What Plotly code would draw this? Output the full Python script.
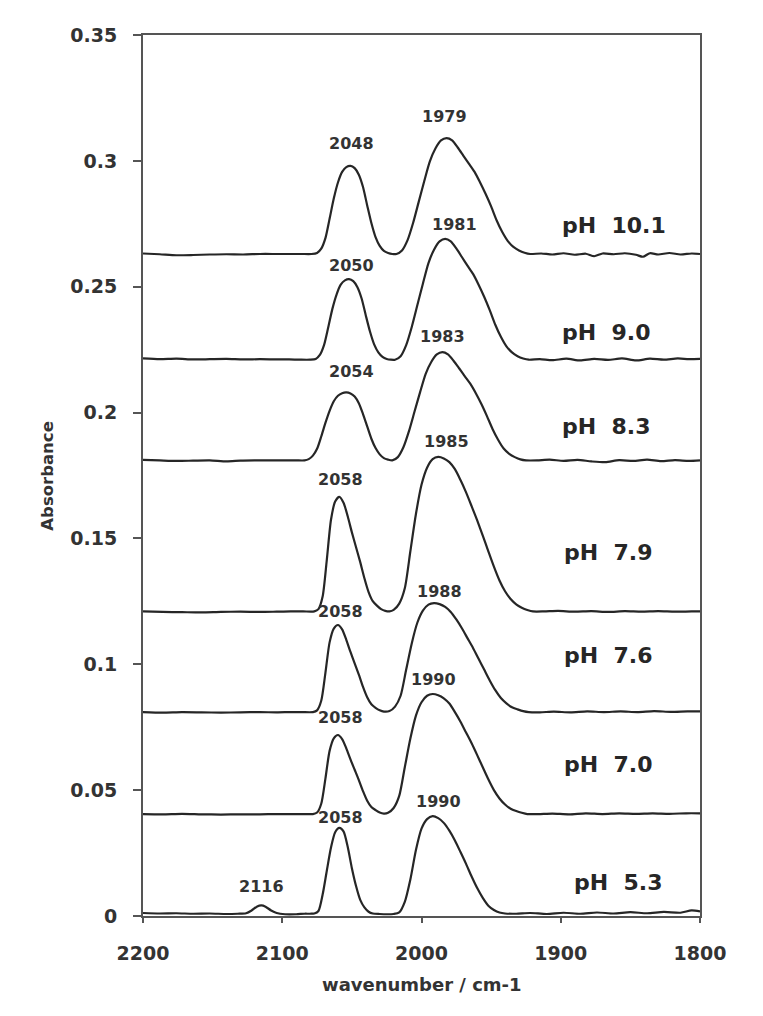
import plotly.graph_objects as go

# ---------------- data ----------------
wn_ph101 = [2200, 2188, 2176, 2164, 2152, 2140, 2128, 2116, 2104, 2094, 2086,
            2079, 2075, 2072, 2069, 2066, 2063, 2060, 2057, 2054, 2051, 2048, 2045, 2042, 2039, 2036, 2033, 2030, 2027, 2024, 2021,
            2018, 2014, 2010, 2006, 2002, 1998, 1994, 1990, 1986, 1982, 1978, 1974, 1970, 1966, 1962, 1958, 1954, 1950,
            1946, 1942, 1938, 1934, 1930, 1926, 1922,
            1914, 1906, 1898, 1890, 1882, 1876, 1870, 1862, 1854, 1846, 1841, 1836, 1830, 1822, 1814, 1806, 1800]
abs_ph101 = [0.2632, 0.2629, 0.2625, 0.2626, 0.2628, 0.2629, 0.2628, 0.2630, 0.2630, 0.2630, 0.2630,
             0.2630, 0.2634, 0.2651, 0.2693, 0.2770, 0.2850, 0.2914, 0.2956, 0.2975, 0.2980, 0.2971, 0.2945, 0.2896, 0.2823, 0.2753, 0.2697, 0.2662, 0.2642, 0.2634, 0.2630,
             0.2630, 0.2644, 0.2685, 0.2754, 0.2837, 0.2920, 0.2998, 0.3049, 0.3081, 0.3090, 0.3081, 0.3053, 0.3021, 0.2989, 0.2957, 0.2915, 0.2869, 0.2819,
             0.2763, 0.2717, 0.2681, 0.2658, 0.2644, 0.2635, 0.2630,
             0.2632, 0.2628, 0.2633, 0.2627, 0.2631, 0.2621, 0.2632, 0.2629, 0.2633, 0.2627, 0.2619, 0.2633, 0.2628, 0.2634, 0.2628, 0.2632, 0.2630]

wn_ph90 = [2200, 2188, 2176, 2164, 2152, 2140, 2128, 2116, 2104, 2095, 2087,
           2080, 2076, 2073, 2070, 2067, 2064, 2061, 2058, 2055, 2052, 2049, 2046, 2043, 2040, 2037, 2034, 2031, 2028, 2025, 2022,
           2019, 2015, 2011, 2007, 2003, 1999, 1995, 1991, 1987, 1983, 1979, 1975, 1971, 1967, 1963, 1959, 1955, 1951,
           1947, 1943, 1939, 1935, 1931, 1927, 1923,
           1915, 1906, 1896, 1886, 1876, 1866, 1856, 1846, 1836, 1826, 1816, 1808, 1800]
abs_ph90 = [0.2215, 0.2212, 0.2214, 0.2211, 0.2212, 0.2213, 0.2211, 0.2212, 0.2211, 0.2211, 0.2210,
            0.2210, 0.2213, 0.2229, 0.2268, 0.2338, 0.2412, 0.2469, 0.2508, 0.2525, 0.2530, 0.2522, 0.2498, 0.2453, 0.2386, 0.2322, 0.2271, 0.2239, 0.2221, 0.2213, 0.2210,
            0.2210, 0.2224, 0.2268, 0.2340, 0.2426, 0.2512, 0.2594, 0.2647, 0.2680, 0.2690, 0.2680, 0.2652, 0.2618, 0.2584, 0.2551, 0.2508, 0.2460, 0.2407,
            0.2349, 0.2301, 0.2263, 0.2239, 0.2224, 0.2215, 0.2210,
            0.2212, 0.2208, 0.2214, 0.2207, 0.2213, 0.2209, 0.2215, 0.2207, 0.2214, 0.2210, 0.2215, 0.2212, 0.2213]

wn_ph83 = [2200, 2188, 2176, 2164, 2152, 2140, 2130, 2120, 2108, 2098, 2090,
           2084, 2081, 2078, 2075, 2072, 2069, 2066, 2063, 2060, 2057, 2054, 2051, 2048, 2045, 2042, 2039, 2036, 2033, 2030, 2027, 2024, 2021,
           2017, 2013, 2009, 2005, 2001, 1997, 1993, 1989, 1985, 1981, 1977, 1973, 1969, 1965, 1961, 1957, 1953, 1949,
           1945, 1941, 1937, 1933, 1929, 1925,
           1917, 1908, 1898, 1888, 1878, 1868, 1858, 1848, 1838, 1828, 1818, 1808, 1800]
abs_ph83 = [0.1812, 0.1810, 0.1808, 0.1809, 0.1810, 0.1806, 0.1809, 0.1810, 0.1810, 0.1810, 0.1810,
            0.1810, 0.1815, 0.1829, 0.1856, 0.1905, 0.1959, 0.2007, 0.2045, 0.2067, 0.2077, 0.2080, 0.2076, 0.2064, 0.2037, 0.1994, 0.1945, 0.1896, 0.1859, 0.1834, 0.1819, 0.1813, 0.1810,
            0.1823, 0.1862, 0.1926, 0.2004, 0.2081, 0.2154, 0.2201, 0.2231, 0.2240, 0.2231, 0.2206, 0.2176, 0.2145, 0.2115, 0.2077, 0.2034, 0.1986, 0.1935,
            0.1892, 0.1857, 0.1836, 0.1823, 0.1814, 0.1810,
            0.1810, 0.1813, 0.1808, 0.1812, 0.1806, 0.1803, 0.1811, 0.1808, 0.1813, 0.1807, 0.1811, 0.1808, 0.1810]

wn_ph79 = [2200, 2186, 2172, 2158, 2144, 2130, 2116, 2104, 2094, 2085,
           2077, 2074, 2071, 2068, 2065, 2062, 2059, 2056, 2053, 2050, 2047, 2044, 2041, 2038, 2035, 2032, 2029, 2026, 2023,
           2020, 2016, 2012, 2008, 2004, 2000, 1996, 1992, 1988, 1984, 1980, 1976, 1972, 1968, 1964, 1960, 1956, 1952,
           1948, 1944, 1940, 1936, 1932, 1928, 1924, 1920,
           1912, 1902, 1890, 1878, 1866, 1854, 1842, 1830, 1818, 1806, 1800]
abs_ph79 = [0.1210, 0.1208, 0.1207, 0.1206, 0.1208, 0.1209, 0.1208, 0.1209, 0.1210, 0.1210,
            0.1210, 0.1219, 0.1269, 0.1415, 0.1574, 0.1647, 0.1665, 0.1642, 0.1588, 0.1524, 0.1465, 0.1406, 0.1342, 0.1287, 0.1251, 0.1233, 0.1219, 0.1212, 0.1210,
            0.1216, 0.1241, 0.1302, 0.1449, 0.1597, 0.1713, 0.1781, 0.1815, 0.1824, 0.1818, 0.1803, 0.1775, 0.1732, 0.1683, 0.1628, 0.1572, 0.1511, 0.1449,
            0.1388, 0.1333, 0.1290, 0.1259, 0.1238, 0.1225, 0.1216, 0.1210,
            0.1210, 0.1212, 0.1209, 0.1211, 0.1208, 0.1211, 0.1209, 0.1211, 0.1209, 0.1210, 0.1210]

wn_ph76 = [2200, 2186, 2172, 2158, 2144, 2130, 2116, 2104, 2094, 2086,
           2078, 2075, 2072, 2069, 2066, 2063, 2060, 2057, 2054, 2051, 2048, 2045, 2042, 2039, 2036, 2033, 2030, 2027,
           2023, 2019, 2015, 2011, 2007, 2003, 1999, 1995, 1991, 1987, 1983, 1979, 1975, 1971, 1967, 1963, 1959, 1955,
           1951, 1947, 1943, 1939, 1935, 1931, 1927, 1923,
           1915, 1905, 1893, 1881, 1869, 1857, 1845, 1833, 1821, 1809, 1800]
abs_ph76 = [0.0810, 0.0808, 0.0810, 0.0809, 0.0808, 0.0809, 0.0810, 0.0809, 0.0810, 0.0810,
            0.0810, 0.0817, 0.0855, 0.0966, 0.1087, 0.1142, 0.1156, 0.1139, 0.1097, 0.1049, 0.1004, 0.0959, 0.0910, 0.0869, 0.0841, 0.0827, 0.0817, 0.0812,
            0.0814, 0.0832, 0.0875, 0.0979, 0.1083, 0.1165, 0.1213, 0.1237, 0.1243, 0.1239, 0.1228, 0.1208, 0.1178, 0.1143, 0.1104, 0.1065, 0.1022, 0.0979,
            0.0936, 0.0897, 0.0866, 0.0845, 0.0829, 0.0821, 0.0814, 0.0810,
            0.0809, 0.0812, 0.0809, 0.0813, 0.0810, 0.0813, 0.0810, 0.0814, 0.0811, 0.0813, 0.0813]

wn_ph70 = [2200, 2186, 2172, 2158, 2144, 2130, 2116, 2104, 2094, 2086,
           2078, 2075, 2072, 2069, 2066, 2063, 2060, 2057, 2054, 2051, 2048, 2045, 2042, 2039, 2036, 2033, 2030, 2027,
           2024, 2020, 2016, 2012, 2008, 2004, 2000, 1996, 1992, 1988, 1984, 1980, 1976, 1972, 1968, 1964, 1960, 1956,
           1952, 1948, 1944, 1940, 1936, 1932, 1928, 1924,
           1916, 1906, 1894, 1882, 1870, 1858, 1846, 1834, 1822, 1810, 1800]
abs_ph70 = [0.0405, 0.0404, 0.0406, 0.0404, 0.0403, 0.0404, 0.0404, 0.0405, 0.0405, 0.0405,
            0.0405, 0.0411, 0.0446, 0.0546, 0.0656, 0.0706, 0.0719, 0.0703, 0.0666, 0.0622, 0.0581, 0.0540, 0.0496, 0.0458, 0.0433, 0.0421, 0.0411, 0.0407,
            0.0410, 0.0429, 0.0477, 0.0591, 0.0705, 0.0796, 0.0849, 0.0875, 0.0882, 0.0877, 0.0865, 0.0844, 0.0810, 0.0772, 0.0729, 0.0686, 0.0639, 0.0591,
            0.0543, 0.0500, 0.0467, 0.0443, 0.0426, 0.0417, 0.0410, 0.0405,
            0.0405, 0.0407, 0.0404, 0.0408, 0.0405, 0.0408, 0.0406, 0.0408, 0.0406, 0.0408, 0.0408]

wn_ph53 = [2200, 2188, 2176, 2164, 2152, 2140, 2132, 2126, 2122, 2118, 2115, 2112, 2108, 2104, 2098, 2090, 2084,
           2080, 2077, 2074, 2071, 2068, 2065, 2062, 2059, 2056, 2053, 2050, 2047, 2044, 2041, 2038, 2035, 2030, 2025, 2020,
           2016, 2012, 2008, 2004, 2000, 1996, 1992, 1988, 1984, 1980, 1976, 1972, 1968, 1964, 1960, 1956, 1952, 1948, 1944, 1940,
           1932, 1922, 1910, 1898, 1886, 1874, 1862, 1850, 1838, 1826, 1814, 1806, 1800]
abs_ph53 = [0.0012, 0.0010, 0.0011, 0.0009, 0.0010, 0.0008, 0.0009, 0.0011, 0.0022, 0.0038, 0.0042, 0.0037, 0.0022, 0.0012, 0.0007, 0.0007, 0.0009,
            0.0009, 0.0010, 0.0020, 0.0085, 0.0180, 0.0272, 0.0333, 0.0350, 0.0336, 0.0275, 0.0190, 0.0119, 0.0064, 0.0034, 0.0017, 0.0010, 0.0008, 0.0007, 0.0008,
            0.0014, 0.0056, 0.0145, 0.0262, 0.0347, 0.0385, 0.0397, 0.0389, 0.0370, 0.0339, 0.0300, 0.0254, 0.0207, 0.0157, 0.0111, 0.0072, 0.0041, 0.0024, 0.0014, 0.0010,
            0.0009, 0.0012, 0.0008, 0.0013, 0.0009, 0.0014, 0.0010, 0.0015, 0.0011, 0.0016, 0.0013, 0.0022, 0.0018]

spectra = [(wn_ph101, abs_ph101), (wn_ph90, abs_ph90), (wn_ph83, abs_ph83), (wn_ph79, abs_ph79),
           (wn_ph76, abs_ph76), (wn_ph70, abs_ph70), (wn_ph53, abs_ph53)]

# peak labels: text, wavenumber position, absorbance position
peak_text = ["2048", "1979", "2050", "1981", "2054", "1983", "2058", "1985",
             "2058", "1988", "2058", "1990", "2058", "1990", "2116"]
peak_x = [2050.1, 1983.5, 2050.1, 1976.5, 2050.6, 1985.0, 2058.5, 1981.9,
          2058.5, 1987.4, 2058.5, 1991.7, 2058.0, 1987.9, 2114.8]
peak_y = [0.3070, 0.3178, 0.2584, 0.2749, 0.2165, 0.2304, 0.1735, 0.1884,
          0.1209, 0.1288, 0.0787, 0.0938, 0.0392, 0.0454, 0.0116]

ph_text = ["pH\u00a0\u00a010.1", "pH\u00a0\u00a09.0", "pH\u00a0\u00a08.3", "pH\u00a0\u00a07.9",
           "pH\u00a0\u00a07.6", "pH\u00a0\u00a07.0", "pH\u00a0\u00a05.3"]
ph_x = [1900.5, 1900.5, 1900.5, 1899.0, 1899.0, 1899.0, 1892.0]
ph_y = [0.2745, 0.2320, 0.1943, 0.1446, 0.1033, 0.0600, 0.0135]

x_ticks = [2200, 2100, 2000, 1900, 1800]
y_ticks = [0, 0.05, 0.1, 0.15, 0.2, 0.25, 0.3, 0.35]
y_ticktext = ["0", "0.05", "0.1", "0.15", "0.2", "0.25", "0.3", "0.35"]

# ---------------- figure ----------------
LINE = "#262626"
TXT = "#333333"
FONT = "DejaVu Sans"

fig = go.Figure()
for wn, ab in spectra:
    fig.add_trace(go.Scatter(x=wn, y=ab, mode="lines",
                             line=dict(color=LINE, width=2.2, shape="spline", smoothing=0.7),
                             showlegend=False, hoverinfo="skip"))

for t, x, y in zip(peak_text, peak_x, peak_y):
    fig.add_annotation(x=x, y=y, xref="x", yref="y", text=t, showarrow=False,
                       xanchor="center", yanchor="middle",
                       font=dict(family=FONT, size=16, color=TXT, weight="bold"))

for t, x, y in zip(ph_text, ph_x, ph_y):
    fig.add_annotation(x=x, y=y, xref="x", yref="y", text=t, showarrow=False,
                       xanchor="left", yanchor="middle",
                       font=dict(family=FONT, size=22, color="#262626", weight="bold"))

# axis titles
fig.add_annotation(x=-0.172, y=0.5, xref="paper", yref="paper", text="Absorbance",
                   textangle=-90, showarrow=False, xanchor="center", yanchor="middle",
                   font=dict(family=FONT, size=16.5, color=TXT, weight="bold"))
fig.add_annotation(x=0.5, y=-0.0783, xref="paper", yref="paper", text="wavenumber / cm-1",
                   showarrow=False, xanchor="center", yanchor="middle",
                   font=dict(family=FONT, size=18, color=TXT, weight="bold"))

fig.update_xaxes(range=[2200, 1800], tickvals=x_ticks, ticktext=[str(v) for v in x_ticks],
                 ticks="outside", ticklen=5, tickwidth=1.5, tickcolor="#555",
                 showline=True, linecolor="#555", linewidth=2, mirror=True,
                 showgrid=False, zeroline=False, ticklabelstandoff=14,
                 tickfont=dict(family=FONT, size=19, color=TXT, weight="bold"))
fig.update_yaxes(range=[0, 0.35], tickvals=y_ticks, ticktext=y_ticktext,
                 ticks="outside", ticklen=8, tickwidth=1.5, tickcolor="#555",
                 showline=True, linecolor="#555", linewidth=2, mirror=True,
                 showgrid=False, zeroline=False, ticklabelstandoff=12,
                 tickfont=dict(family=FONT, size=19, color=TXT, weight="bold"))

fig.update_layout(width=763, height=1016,
                  margin=dict(l=143, r=63, t=35, b=100),
                  paper_bgcolor="white", plot_bgcolor="white")

fig.write_html("out.html")
